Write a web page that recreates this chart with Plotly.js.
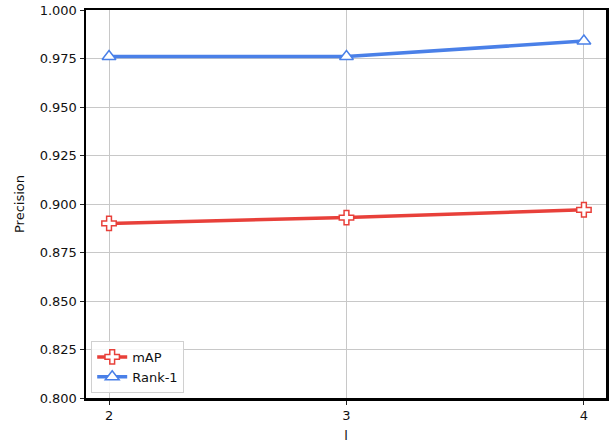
<!DOCTYPE html>
<html><head><meta charset="utf-8">
<script src="https://cdn.plot.ly/plotly-3.0.1.min.js"></script>
<style>html,body{margin:0;padding:0;background:#fff;}#chart{width:610px;height:444px;}</style>
</head><body><div id="chart"></div>
<script>
const xVals = [2, 3, 4];
const mAP = [0.890, 0.893, 0.897];
const rank1 = [0.976, 0.976, 0.984];
const yTicks = [0.800, 0.825, 0.850, 0.875, 0.900, 0.925, 0.950, 0.975, 1.000];

const traces = [
  {x: xVals, y: mAP, name: 'mAP', mode: 'lines+markers',
   line: {color: '#e8403a', width: 3.5},
   marker: {symbol: 'cross', size: 12, color: '#ffffff', line: {color: '#e8403a', width: 1.5}}},
  {x: xVals, y: rank1, name: 'Rank-1', mode: 'lines+markers',
   line: {color: '#4a80e8', width: 3.5},
   marker: {symbol: 'triangle-up', size: 12, color: '#ffffff', line: {color: '#4a80e8', width: 1.5}}}
];

const layout = {
  width: 610, height: 444,
  margin: {l: 86, r: 4, t: 10, b: 46},
  paper_bgcolor: '#fff', plot_bgcolor: '#fff',
  font: {family: 'DejaVu Sans', size: 13, color: '#111'},
  showlegend: true,
  legend: {x: 0.01, y: 0.013, xanchor: 'left', yanchor: 'bottom',
    bgcolor: 'rgba(255,255,255,0.85)', bordercolor: '#d0d0d0', borderwidth: 1,
    font: {family: 'DejaVu Sans', size: 13, color: '#111'}},
  xaxis: {range: [1.903, 4.093], tickvals: xVals, ticktext: xVals.map(String),
    showgrid: true, gridcolor: '#c8c8c8', gridwidth: 1, zeroline: false,
    showline: true, linecolor: '#000', linewidth: 2.5, mirror: true,
    ticks: 'outside', ticklen: 4, tickcolor: '#222',
    tickfont: {color: '#111'},
    title: {text: 'l', font: {size: 13, color: '#111'}, standoff: 9}},
  yaxis: {range: [0.8, 1.0], tickvals: yTicks, ticktext: yTicks.map(v => v.toFixed(3)),
    showgrid: true, gridcolor: '#c8c8c8', gridwidth: 1, zeroline: false,
    showline: true, linecolor: '#000', linewidth: 2.5, mirror: true,
    ticks: 'outside', ticklen: 4, tickcolor: '#222',
    tickfont: {color: '#111'},
    title: {text: 'Precision', font: {size: 13, color: '#111'}, standoff: 12}}
};
Plotly.newPlot('chart', traces, layout, {displayModeBar: false, staticPlot: true});
</script></body></html>
